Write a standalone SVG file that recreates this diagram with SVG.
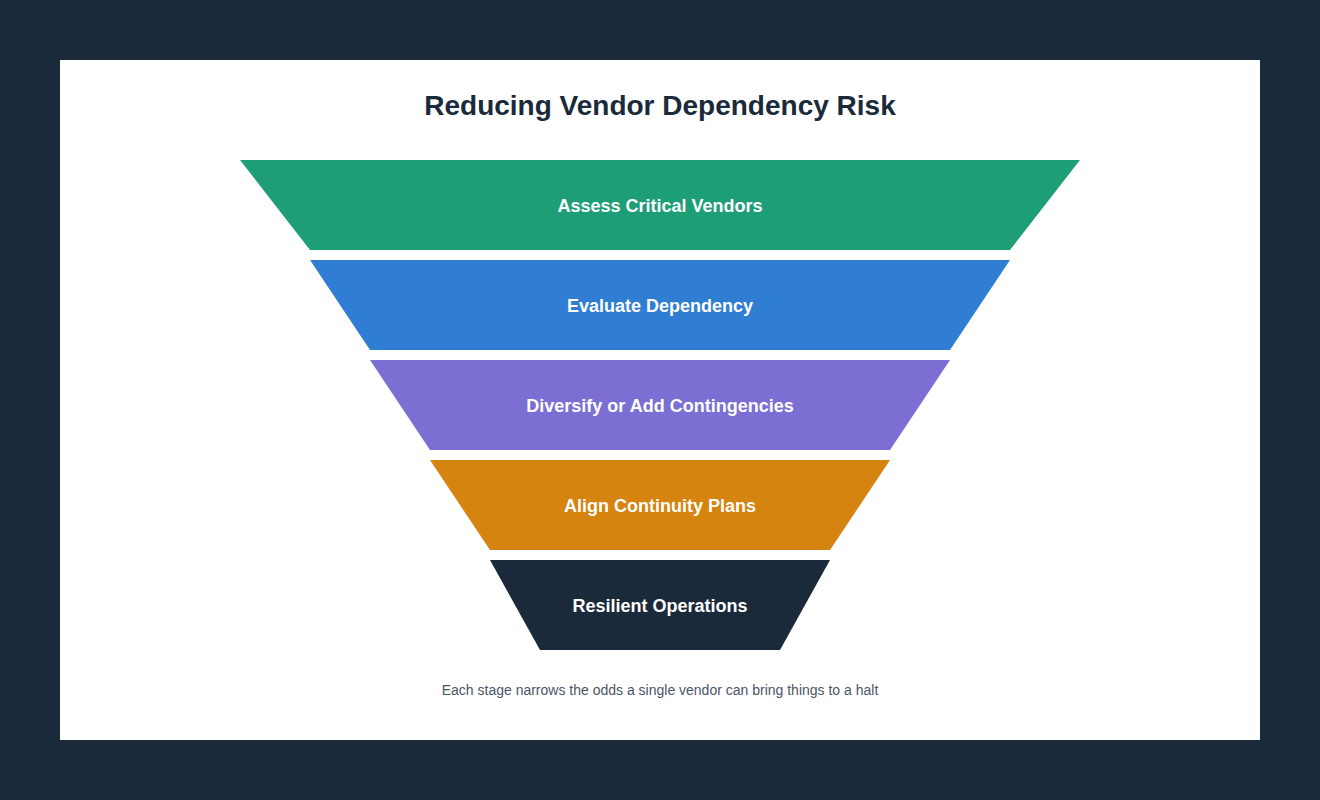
<svg xmlns="http://www.w3.org/2000/svg" width="1320" height="800" viewBox="0 0 1320 800">
<style>
.lbl{font-family:"Liberation Sans",Arial,sans-serif;font-weight:bold;font-size:18px;fill:#ffffff;text-anchor:middle;dominant-baseline:central}
.title{font-family:"Liberation Sans",Arial,sans-serif;font-weight:bold;font-size:28px;fill:#1b2a3a;text-anchor:middle}
.cap{font-family:"Liberation Sans",Arial,sans-serif;font-size:14px;fill:#4a5568;text-anchor:middle}
</style>
<rect x="0" y="0" width="1320" height="800" fill="#1b2a3a"/>
<rect x="60" y="60" width="1200" height="680" fill="#ffffff"/>
<text class="title" x="660" y="115">Reducing Vendor Dependency Risk</text>
<g id="stage1"><polygon points="240,160 1080,160 1010,250 310,250" fill="#1e9e77"/><text class="lbl" x="660" y="206">Assess Critical Vendors</text></g>
<g id="stage2"><polygon points="310,260 1010,260 950,350 370,350" fill="#2f7ed4"/><text class="lbl" x="660" y="306">Evaluate Dependency</text></g>
<g id="stage3"><polygon points="370,360 950,360 890,450 430,450" fill="#7b6fd3"/><text class="lbl" x="660" y="406">Diversify or Add Contingencies</text></g>
<g id="stage4"><polygon points="430,460 890,460 830,550 490,550" fill="#d4840f"/><text class="lbl" x="660" y="506">Align Continuity Plans</text></g>
<g id="stage5"><polygon points="490,560 830,560 780,650 540,650" fill="#1b2a3a"/><text class="lbl" x="660" y="606">Resilient Operations</text></g>
<g id="connectors"></g>
<text class="cap" x="660" y="695">Each stage narrows the odds a single vendor can bring things to a halt</text>
</svg>
